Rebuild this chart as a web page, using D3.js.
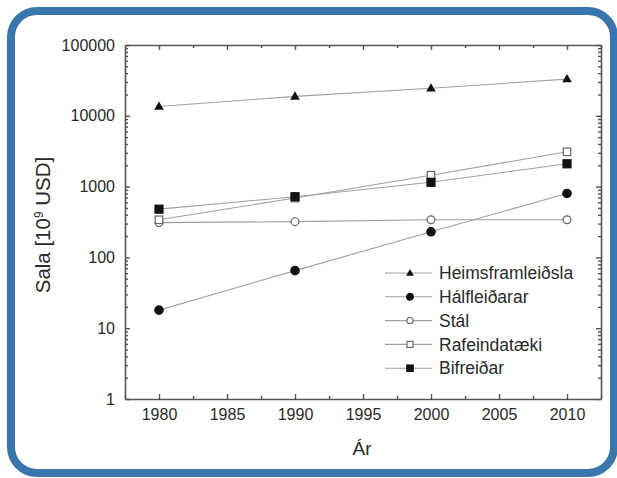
<!DOCTYPE html>
<html>
<head>
<meta charset="utf-8">
<script src="https://cdn.jsdelivr.net/npm/d3@7"></script>
<style>
  body { margin: 0; background: #fff; }
  text { font-family: "Liberation Sans", Arial, sans-serif; fill: #2a2a2a; }
</style>
</head>
<body>
<div id="chart"></div>
<script>
// Data
var years = [1980, 1990, 2000, 2010];
var seriesNames = ["Heimsframleiðsla", "Hálfleiðarar", "Stál", "Rafeindatæki", "Bifreiðar"];
var heims = [13500, 18800, 24500, 33000];
var halfleidarar = [18, 65, 230, 800];
var stal = [310, 320, 340, 340];
var rafeind = [340, 690, 1450, 3100];
var bifreidar = [480, 720, 1150, 2100];
var symbols = ["triangle", "circle", "circleOpen", "squareOpen", "square"];
var yTicks = [1, 10, 100, 1000, 10000, 100000];
var xTicks = [1980, 1985, 1990, 1995, 2000, 2005, 2010];

var allSeries = [heims, halfleidarar, stal, rafeind, bifreidar];

var svgWidth = 617;
var svgHeight = 478;

var margin = { top: 45, left: 125, right: 16, bottom: 79 };
var width = svgWidth - margin.left - margin.right;
var height = svgHeight - margin.top - margin.bottom;

var svg = d3.select("#chart")
  .append("svg")
  .attr("width", svgWidth)
  .attr("height", svgHeight);

// blue rounded frame
svg.append("rect")
  .attr("x", 11).attr("y", 11)
  .attr("width", 603).attr("height", 462)
  .attr("rx", 26).attr("ry", 26)
  .attr("fill", "none")
  .attr("stroke", "#3a76ae")
  .attr("stroke-width", 8);

var chartGroup = svg.append("g")
  .attr("transform", `translate(${margin.left}, ${margin.top})`);

var x = d3.scaleLinear().domain([1977.5, 2012.5]).range([0, width]);
var y = d3.scaleLog().domain([1, 100000]).range([height, 0]);

// minor ticks
var xMinor = d3.range(1977.5, 2012.6, 2.5).filter(v => xTicks.indexOf(v) < 0);
var yMinor = [];
yTicks.slice(0, -1).forEach(function(t) {
  for (var k = 2; k < 10; k++) yMinor.push(t * k);
});

var axisColor = "#555";

function styleAxis(g) {
  g.selectAll("path").attr("stroke", axisColor).attr("stroke-width", 1.6);
  g.selectAll("line").attr("stroke", axisColor).attr("stroke-width", 1.4);
  g.selectAll("text").attr("fill", "#2a2a2a").style("font-size", "16px")
    .style("font-family", "'Liberation Sans', Arial, sans-serif");
}

// bottom axis
var bottom = chartGroup.append("g")
  .attr("transform", `translate(0, ${height})`)
  .call(d3.axisBottom(x).tickValues(xTicks).tickFormat(d3.format("d"))
    .tickSizeInner(-5).tickSizeOuter(0).tickPadding(10));
styleAxis(bottom);
chartGroup.append("g")
  .attr("transform", `translate(0, ${height})`)
  .call(d3.axisBottom(x).tickValues(xMinor).tickFormat("").tickSizeInner(-3).tickSizeOuter(0))
  .call(g => g.select("path").remove())
  .call(styleAxis);

// top axis
chartGroup.append("g")
  .call(d3.axisTop(x).tickValues(xTicks).tickFormat("").tickSizeInner(-5).tickSizeOuter(0))
  .call(styleAxis);
chartGroup.append("g")
  .call(d3.axisTop(x).tickValues(xMinor).tickFormat("").tickSizeInner(-3).tickSizeOuter(0))
  .call(g => g.select("path").remove())
  .call(styleAxis);

// left axis
var left = chartGroup.append("g")
  .call(d3.axisLeft(y).tickValues(yTicks).tickFormat(d3.format("d"))
    .tickSizeInner(-5).tickSizeOuter(0).tickPadding(10));
styleAxis(left);
chartGroup.append("g")
  .call(d3.axisLeft(y).tickValues(yMinor).tickFormat("").tickSizeInner(-3).tickSizeOuter(0))
  .call(g => g.select("path").remove())
  .call(styleAxis);

// right axis
chartGroup.append("g")
  .attr("transform", `translate(${width}, 0)`)
  .call(d3.axisRight(y).tickValues(yTicks).tickFormat("").tickSizeInner(-5).tickSizeOuter(0))
  .call(styleAxis);
chartGroup.append("g")
  .attr("transform", `translate(${width}, 0)`)
  .call(d3.axisRight(y).tickValues(yMinor).tickFormat("").tickSizeInner(-3).tickSizeOuter(0))
  .call(g => g.select("path").remove())
  .call(styleAxis);

// markers (k scales the size, legend uses smaller ones)
function drawMarker(g, type, cx, cy, k) {
  if (type === "triangle") {
    g.append("path")
      .attr("d", d3.symbol().type(d3.symbolTriangle).size(40 * k * k)())
      .attr("transform", `translate(${cx}, ${cy + 0.5})`)
      .attr("fill", "#111");
  } else if (type === "circle" || type === "circleOpen") {
    g.append("circle")
      .attr("cx", cx).attr("cy", cy).attr("r", (type === "circle" ? 4.2 : 3.9) * k)
      .attr("fill", type === "circle" ? "#111" : "#fff")
      .attr("stroke", type === "circle" ? "#111" : "#666")
      .attr("stroke-width", 1.2);
  } else {
    var s = (type === "square" ? 8 : 7.5) * k;
    g.append("rect")
      .attr("x", cx - s / 2).attr("y", cy - s / 2)
      .attr("width", s).attr("height", s)
      .attr("fill", type === "square" ? "#111" : "#fff")
      .attr("stroke", type === "square" ? "#111" : "#666")
      .attr("stroke-width", 1.2);
  }
}

var line = d3.line()
  .x((d, i) => x(years[i]))
  .y(d => y(d));

// draw series
allSeries.forEach(function(values, si) {
  chartGroup.append("path")
    .datum(values)
    .attr("d", line)
    .attr("fill", "none")
    .attr("stroke", "#a0a0a0")
    .attr("stroke-width", 1.1);
});
allSeries.forEach(function(values, si) {
  var g = chartGroup.append("g");
  values.forEach(function(v, i) {
    drawMarker(g, symbols[si], x(years[i]), y(v), 1);
  });
});

// legend
var legend = chartGroup.append("g")
  .attr("transform", "translate(260, 228)");
seriesNames.forEach(function(name, i) {
  var row = legend.append("g").attr("transform", `translate(0, ${i * 23.8})`);
  row.append("line")
    .attr("x1", 0).attr("x2", 47).attr("y1", 0).attr("y2", 0)
    .attr("stroke", "#a0a0a0").attr("stroke-width", 1.1);
  drawMarker(row, symbols[i], 25, 0, 0.8);
  row.append("text")
    .attr("x", 54).attr("y", 0).attr("dy", "0.35em")
    .style("font-size", "17.5px")
    .text(name);
});

// axis labels
chartGroup.append("text")
  .attr("transform", "rotate(-90)")
  .attr("x", -180)
  .attr("y", -75)
  .attr("text-anchor", "middle")
  .style("font-size", "20.5px")
  .html("Sala [10<tspan baseline-shift='super' font-size='12px'>9</tspan> USD]");

chartGroup.append("text")
  .attr("x", width / 2 - 1)
  .attr("y", height + 56)
  .attr("text-anchor", "middle")
  .style("font-size", "19px")
  .text("Ár");
</script>
</body>
</html>
